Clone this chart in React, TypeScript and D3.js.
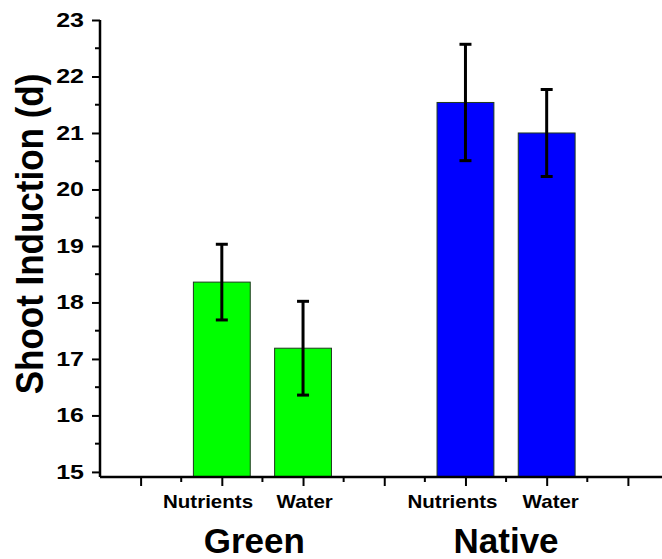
import React, { useEffect, useRef } from "react";
import * as d3 from "d3";

// data
const groups = ["Green", "Native"];
const groupPos = [2.4, 5.5];
const treatments = ["Nutrients", "Water", "Nutrients", "Water"];
const treatmentPos = [1.83, 3.02, 4.84, 6.05];
const barPos = [2, 3, 5, 6];
const barGroup = [0, 0, 1, 1];
const means = [18.36, 17.19, 21.54, 21.0];
const errors = [0.67, 0.83, 1.03, 0.77];
const groupColors = ["#00ff00", "#0000ff"];
const yTicks = [15, 16, 17, 18, 19, 20, 21, 22, 23];

const W = 662;
const H = 559;
const FONT = "'Liberation Sans', Arial, sans-serif";

export default function App() {
  const ref = useRef<SVGSVGElement | null>(null);

  useEffect(() => {
    const svg = d3.select(ref.current);
    svg.selectAll("*").remove();

    const x = d3.scaleLinear().domain([0.5, 7.5]).range([100, 668.5]);
    const y = d3.scaleLinear().domain([14.91, 23]).range([477, 20]);
    const unit = x(1) - x(0);
    const barW = unit * 0.7;

    // bars
    svg.append("g")
      .selectAll("rect")
      .data(means)
      .enter()
      .append("rect")
      .attr("x", (d, i) => x(barPos[i]) - barW / 2)
      .attr("y", d => y(d))
      .attr("width", barW)
      .attr("height", d => y.range()[0] - y(d))
      .attr("fill", (d, i) => groupColors[barGroup[i]])
      .attr("stroke", "#1e3a1e")
      .attr("stroke-width", 1);

    // error bars
    const eb = svg.append("g").attr("stroke", "#000").attr("stroke-width", 3);
    means.forEach((m, i) => {
      const cx = x(barPos[i]);
      eb.append("line")
        .attr("x1", cx).attr("x2", cx)
        .attr("y1", y(m + errors[i])).attr("y2", y(m - errors[i]));
      [m + errors[i], m - errors[i]].forEach(v => {
        eb.append("line")
          .attr("x1", cx - 6).attr("x2", cx + 6)
          .attr("y1", y(v)).attr("y2", y(v));
      });
    });

    // y axis
    const yAxis = d3.axisLeft(y)
      .tickValues(yTicks)
      .tickSize(8)
      .tickPadding(8)
      .tickFormat(d => String(d));
    const gy = svg.append("g")
      .attr("transform", `translate(${x(0.5)},0)`)
      .call(yAxis);
    gy.select(".domain").attr("d", `M0,${y(23)}V${y.range()[0]}`);
    gy.selectAll("line").attr("stroke-width", 2);
    gy.select(".domain").attr("stroke-width", 2.5);
    gy.selectAll("text")
      .attr("x", -16 / 1.25)
      .attr("transform", "scale(1.25,1)")
      .attr("font-family", FONT)
      .attr("font-weight", "bold")
      .attr("font-size", 20)
      .attr("fill", "#000");
    // minor y ticks
    gy.selectAll(".minor")
      .data(yTicks.slice(0, -1).map(t => t + 0.5))
      .enter()
      .append("line")
      .attr("class", "minor")
      .attr("x1", -5).attr("x2", 0)
      .attr("y1", d => y(d)).attr("y2", d => y(d))
      .attr("stroke", "#000")
      .attr("stroke-width", 2);

    // x axis
    const xAxis = d3.axisBottom(x)
      .tickValues([1, 2, 3, 4, 5, 6, 7])
      .tickSize(9)
      .tickFormat(() => "");
    const gx = svg.append("g")
      .attr("transform", `translate(0,${y.range()[0]})`)
      .call(xAxis);
    gx.select(".domain").attr("d", `M${x(0.5)},0H${x(7.5)}`).attr("stroke-width", 2.5);
    gx.selectAll("line").attr("stroke-width", 2);
    gx.selectAll(".minor")
      .data([1.5, 2.5, 3.5, 4.5, 5.5, 6.5])
      .enter()
      .append("line")
      .attr("class", "minor")
      .attr("x1", d => x(d)).attr("x2", d => x(d))
      .attr("y1", 0).attr("y2", 5)
      .attr("stroke", "#000")
      .attr("stroke-width", 2);

    // treatment labels
    svg.append("g")
      .selectAll("text")
      .data(treatments)
      .enter()
      .append("text")
      .attr("transform", (d, i) => `translate(${x(treatmentPos[i])},508) scale(1.14,1)`)
      .attr("text-anchor", "middle")
      .attr("font-family", FONT)
      .attr("font-weight", "bold")
      .attr("font-size", 18)
      .text(d => d);

    // group labels
    svg.append("g")
      .selectAll("text")
      .data(groups)
      .enter()
      .append("text")
      .attr("x", (d, i) => x(groupPos[i]))
      .attr("y", 553)
      .attr("text-anchor", "middle")
      .attr("font-family", FONT)
      .attr("font-weight", "bold")
      .attr("font-size", 35)
      .text(d => d);

    // y title
    svg.append("text")
      .attr("transform", "translate(43,234) scale(1.12,1) rotate(-90)")
      .attr("text-anchor", "middle")
      .attr("font-family", FONT)
      .attr("font-weight", "bold")
      .attr("font-size", 35)
      .text("Shoot Induction (d)");
  }, []);

  return (
    <svg
      ref={ref}
      width={W}
      height={H}
      style={{ position: "absolute", left: 0, top: 0, background: "#fff" }}
    />
  );
}
